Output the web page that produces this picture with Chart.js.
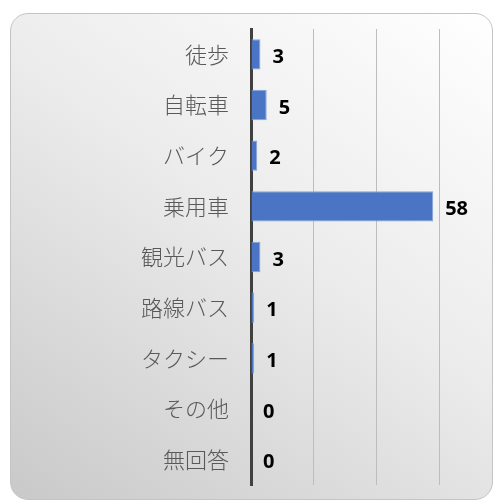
<!DOCTYPE html>
<html>
<head>
<meta charset="utf-8">
<script src="https://cdn.jsdelivr.net/npm/chart.js"></script>
<style>
  html, body { margin: 0; padding: 0; background: #fff; }
  #wrap { position: relative; width: 496px; height: 500px; overflow: hidden; }
  #box {
    position: absolute; left: 10px; top: 13px; width: 481px; height: 485px;
    border: 1px solid #c4c4c4; border-radius: 18px;
    background: linear-gradient(215deg, #ffffff 0%, #ececec 45%, #c9c9c9 100%);
  }
  canvas { position: absolute; left: 0; top: 0; }
</style>
</head>
<body>
<div id="wrap">
  <div id="box"></div>
  <canvas id="myChart" width="496" height="500"></canvas>
</div>
<script>
const categories = ["徒歩", "自転車", "バイク", "乗用車", "観光バス", "路線バス", "タクシー", "その他", "無回答"]
const values = [3, 5, 2, 58, 3, 1, 1, 0, 0]
const gridTicks = [0, 20, 40, 60]

// value labels next to each bar
const valueLabels = {
  id: 'valueLabels',
  afterDatasetsDraw(chart) {
    const ctx = chart.ctx
    const meta = chart.getDatasetMeta(0)
    ctx.save()
    ctx.font = 'bold 20px "Open Sans", "Liberation Sans", sans-serif'
    ctx.fillStyle = '#000'
    ctx.textBaseline = 'middle'
    ctx.textAlign = 'left'
    meta.data.forEach((bar, i) => {
      ctx.fillText(String(values[i]), bar.x + 12, bar.y + 3)
    })
    ctx.restore()
  }
}

const config = {
  type: 'bar',
  data: {
    labels: categories,
    datasets: [{
      data: values,
      backgroundColor: '#4a74c4',
      borderColor: '#86a3d8',
      borderWidth: 1,
      barPercentage: 0.6,
      categoryPercentage: 1
    }]
  },
  options: {
    indexAxis: 'y',
    responsive: false,
    animation: false,
    layout: { padding: { top: 29, bottom: 15, left: 0, right: 0 } },
    plugins: { legend: { display: false }, tooltip: { enabled: false } },
    scales: {
      x: {
        min: 0,
        max: 78,
        afterBuildTicks: axis => { axis.ticks = gridTicks.map(v => ({ value: v })) },
        afterFit: scale => { scale.height = 0; scale.paddingLeft = 0; scale.paddingRight = 0 },
        ticks: { display: false },
        border: { display: false },
        grid: { color: '#bdbdbd', lineWidth: 1, drawTicks: false }
      },
      y: {
        afterFit: scale => { scale.width = 251; scale.paddingTop = 0; scale.paddingBottom = 0 },
        ticks: {
          color: '#595959',
          padding: 22,
          font: { family: '"Noto Sans CJK JP"', size: 22, weight: 300 }
        },
        grid: { display: false, drawTicks: false },
        border: { display: true, color: '#404040', width: 3 }
      }
    }
  },
  plugins: [valueLabels]
}

const myChart = new Chart(document.getElementById('myChart'), config)
</script>
</body>
</html>
